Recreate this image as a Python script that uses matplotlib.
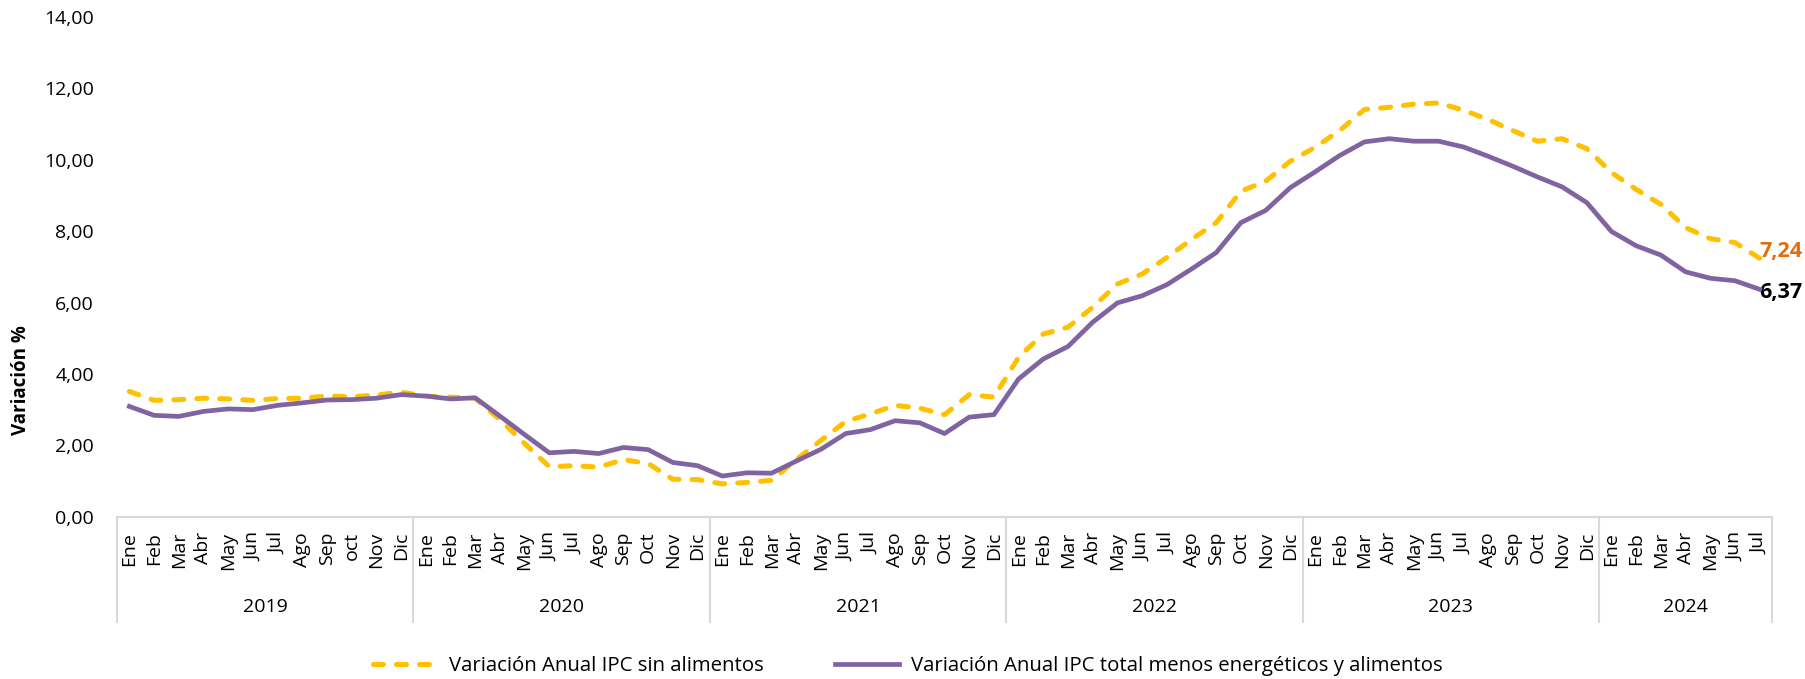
import matplotlib
matplotlib.use("Agg")
import matplotlib.pyplot as plt
from matplotlib.ticker import FuncFormatter, MultipleLocator
from matplotlib.lines import Line2D
import numpy as np

plt.rcParams['font.family'] = ['Open Sans', 'DejaVu Sans']

years = ['2019', '2020', '2021', '2022', '2023', '2024']
months_2019 = ['Ene', 'Feb', 'Mar', 'Abr', 'May', 'Jun', 'Jul', 'Ago', 'Sep', 'oct', 'Nov', 'Dic']
months = ['Ene', 'Feb', 'Mar', 'Abr', 'May', 'Jun', 'Jul', 'Ago', 'Sep', 'Oct', 'Nov', 'Dic']
months_per_year = [12, 12, 12, 12, 12, 7]

# variacion anual IPC sin alimentos (%)
ipc_sin_alimentos = [
    3.51, 3.26, 3.28, 3.32, 3.30, 3.26, 3.31, 3.32, 3.38, 3.36, 3.41, 3.49,
    3.38, 3.35, 3.32, 2.72, 2.05, 1.40, 1.43, 1.39, 1.60, 1.49, 1.05, 1.04,
    0.92, 0.96, 1.02, 1.60, 2.14, 2.67, 2.88, 3.12, 3.04, 2.86, 3.42, 3.35,
    4.47, 5.12, 5.31, 5.87, 6.52, 6.80, 7.26, 7.77, 8.24, 9.12, 9.40, 9.96,
    10.35, 10.82, 11.41, 11.47, 11.56, 11.59, 11.39, 11.13, 10.82, 10.52, 10.59, 10.31,
    9.64, 9.17, 8.75, 8.10, 7.79, 7.68, 7.24,
]

# variacion anual IPC total menos energeticos y alimentos (%)
ipc_sae = [
    3.09, 2.84, 2.81, 2.95, 3.02, 3.00, 3.12, 3.19, 3.27, 3.28, 3.32, 3.42,
    3.38, 3.30, 3.33, 2.82, 2.30, 1.79, 1.83, 1.77, 1.94, 1.88, 1.52, 1.43,
    1.14, 1.23, 1.22, 1.56, 1.89, 2.33, 2.44, 2.69, 2.63, 2.33, 2.79, 2.86,
    3.86, 4.42, 4.77, 5.45, 5.99, 6.19, 6.50, 6.94, 7.40, 8.24, 8.58, 9.22,
    9.66, 10.12, 10.50, 10.59, 10.52, 10.52, 10.36, 10.10, 9.82, 9.52, 9.24, 8.80,
    7.99, 7.59, 7.33, 6.86, 6.68, 6.61, 6.37,
]

labels = months_2019 + months * 4 + months[:7]
x = np.arange(len(labels))

yellow = '#FFC000'
purple = '#8064A2'
grid_grey = '#D9D9D9'


def coma(v, pos=None):
    return f'{v:.2f}'.replace('.', ',')


fig = plt.figure(figsize=(18.06, 6.79), dpi=100)
ax = fig.add_axes([0.0648, 0.2390, 0.9164, 0.7360])

ax.plot(x, ipc_sin_alimentos, color=yellow, lw=3.6, dashes=(2.0, 2.6),
        dash_capstyle='round', label='Variación Anual IPC sin alimentos', zorder=3)
ax.plot(x, ipc_sae, color=purple, lw=3.4, solid_joinstyle='round',
        label='Variación Anual IPC total menos energéticos y alimentos', zorder=4)

ax.set_xlim(-0.5, len(labels) - 0.5)
ax.set_ylim(0, 14)
ax.yaxis.set_major_locator(MultipleLocator(2))
ax.yaxis.set_major_formatter(FuncFormatter(coma))
ax.tick_params(axis='y', length=0, labelsize=14, pad=16.5, colors='#000000')

ax.set_xticks(x)
ax.set_xticklabels(labels, rotation=90, fontsize=14)
ax.tick_params(axis='x', length=0, pad=11)

for s in ['top', 'right', 'left']:
    ax.spines[s].set_visible(False)
ax.spines['bottom'].set_color(grid_grey)
ax.spines['bottom'].set_linewidth(1.5)

# year groups below the month labels
trans = ax.get_xaxis_transform()
edges = np.concatenate([[0], np.cumsum(months_per_year)]) - 0.5
for e in edges:
    ax.add_line(Line2D([e, e], [0, -0.21], transform=trans, color=grid_grey,
                       lw=1.5, clip_on=False))
for i, yr in enumerate(years):
    ax.text((edges[i] + edges[i + 1]) / 2, -0.18, yr, transform=trans,
            ha='center', va='center', fontsize=14)

# last value labels
ax.annotate(coma(ipc_sin_alimentos[-1]), (x[-1], ipc_sin_alimentos[-1]),
            xytext=(0, 5), textcoords='offset points', ha='left', va='center',
            fontsize=15.5, fontweight='bold', color='#E46C0A')
ax.annotate(coma(ipc_sae[-1]), (x[-1], ipc_sae[-1]),
            xytext=(0, -2), textcoords='offset points', ha='left', va='center',
            fontsize=15.5, fontweight='bold', color='#000000')

fig.text(0.0117, 0.44, 'Variación %', rotation=90, ha='center', va='center',
         fontsize=13.5, fontweight='bold')

fig.legend(loc='center', bbox_to_anchor=(0.5025, 0.019), ncol=2, frameon=False,
           fontsize=14.7, handlelength=3.15, handletextpad=0.56, columnspacing=3.5)

fig.savefig('out.png', dpi=100)
